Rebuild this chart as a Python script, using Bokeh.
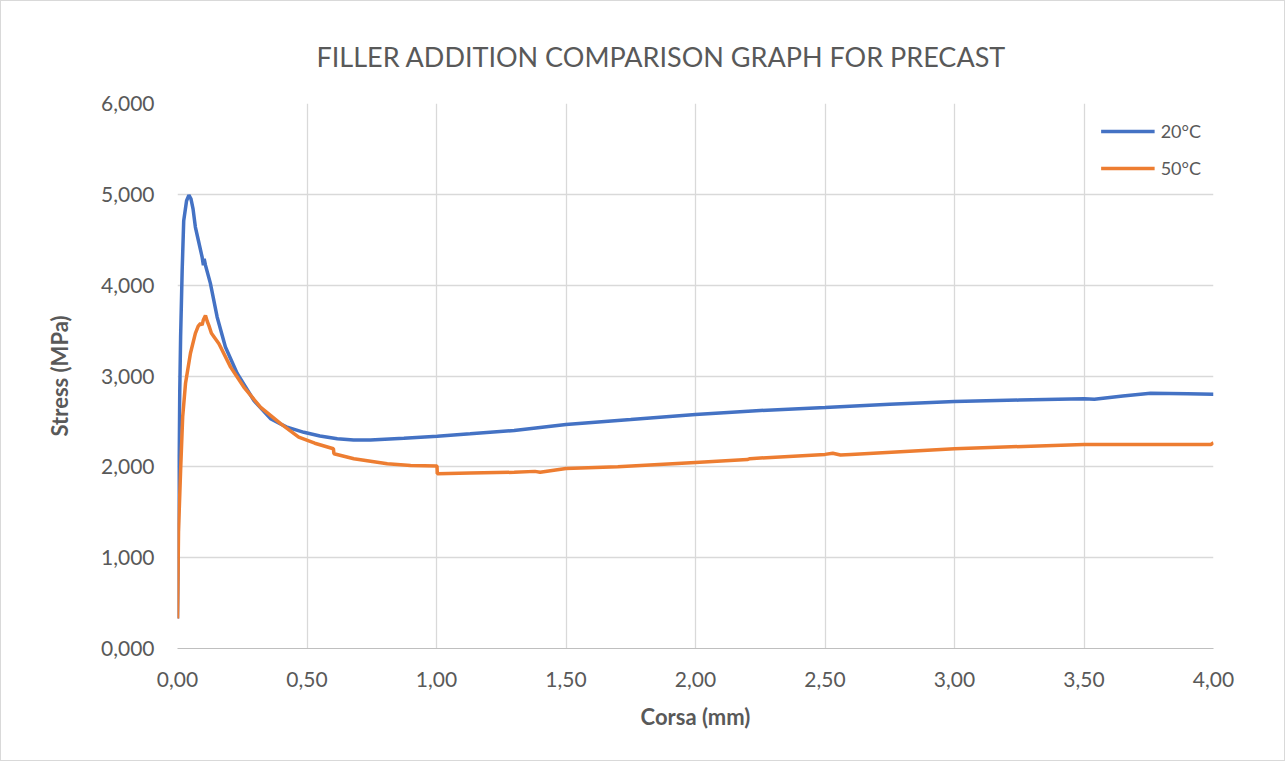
from bokeh.plotting import figure
from bokeh.models import Range1d, FixedTicker, Legend, Title
from bokeh.embed import file_html
from bokeh.resources import INLINE

# ---- data (Corsa in mm, Stress in MPa) ----
x_20 = [0.000, 0.003, 0.004, 0.012, 0.018, 0.024, 0.035, 0.044, 0.052, 0.060, 0.069, 0.080,
        0.095, 0.100, 0.103, 0.108, 0.127, 0.153, 0.185, 0.230, 0.295, 0.359, 0.420, 0.488,
        0.550, 0.617, 0.680, 0.745, 0.874, 1.003, 1.130, 1.300, 1.500, 1.750, 2.000, 2.250,
        2.500, 2.750, 3.000, 3.250, 3.500, 3.540, 3.650, 3.757, 3.900, 4.000]
y_20 = [0.33, 1.23, 1.96, 3.43, 4.16, 4.71, 4.93, 4.99, 4.95, 4.84, 4.64, 4.50,
        4.31, 4.22, 4.29, 4.22, 4.02, 3.65, 3.32, 3.03, 2.73, 2.53, 2.44, 2.38,
        2.34, 2.31, 2.295, 2.295, 2.315, 2.338, 2.364, 2.40, 2.467, 2.52, 2.577, 2.62,
        2.654, 2.69, 2.718, 2.735, 2.75, 2.745, 2.78, 2.81, 2.805, 2.80]

x_50 = [0.000, 0.004, 0.012, 0.020, 0.031, 0.050, 0.069, 0.080, 0.089, 0.095, 0.100, 0.108,
        0.115, 0.121, 0.131, 0.160, 0.205, 0.256, 0.320, 0.398, 0.468, 0.530, 0.602, 0.604,
        0.681, 0.810, 0.900, 1.002, 1.003, 1.131, 1.300, 1.380, 1.400, 1.500, 1.700, 2.000,
        2.200, 2.210, 2.500, 2.530, 2.560, 2.600, 3.000, 3.500, 3.990, 4.000]
y_50 = [0.33, 1.30, 1.96, 2.55, 2.92, 3.25, 3.47, 3.55, 3.58, 3.56, 3.62, 3.667,
        3.60, 3.557, 3.47, 3.355, 3.098, 2.878, 2.658, 2.475, 2.327, 2.26, 2.199, 2.144,
        2.089, 2.034, 2.015, 2.008, 1.924, 1.931, 1.94, 1.95, 1.94, 1.982, 2.00, 2.048,
        2.08, 2.09, 2.137, 2.15, 2.13, 2.137, 2.199, 2.247, 2.247, 2.265]

series_names = ["20°C", "50°C"]
series_colors = ["#4472C4", "#ED7D31"]

x_ticks = [0.0, 0.5, 1.0, 1.5, 2.0, 2.5, 3.0, 3.5, 4.0]
x_tick_labels = ["0,00", "0,50", "1,00", "1,50", "2,00", "2,50", "3,00", "3,50", "4,00"]
y_ticks = [0, 1, 2, 3, 4, 5, 6]
y_tick_labels = ["0,000", "1,000", "2,000", "3,000", "4,000", "5,000", "6,000"]

title_text = "FILLER ADDITION COMPARISON GRAPH FOR PRECAST"
x_label = "Corsa (mm)"
y_label = "Stress (MPa)"

FONT = "Lato"
TXT = "#595959"

p = figure(width=1285, height=761, output_backend="svg", toolbar_location=None,
           x_range=Range1d(0, 4), y_range=Range1d(0, 6),
           min_border_left=176, min_border_right=73, min_border_top=102, min_border_bottom=114)
p.outline_line_color = None
p.background_fill_color = "white"
p.border_fill_color = "white"
p.styles = {"border": "1px solid #D9D9D9"}

t = Title(text=title_text, text_font=FONT, text_font_size="27px", text_font_style="normal",
          text_color=TXT, align="left", offset=139)
try:
    t.standoff = 62
except Exception:
    pass
p.add_layout(t, "above")

for ax, ticks, labels in ((p.xaxis[0], x_ticks, x_tick_labels), (p.yaxis[0], y_ticks, y_tick_labels)):
    ax.ticker = FixedTicker(ticks=ticks)
    ax.major_label_overrides = {tk: lb for tk, lb in zip(ticks, labels)}
    ax.major_tick_line_color = None
    ax.minor_tick_line_color = None
    ax.major_label_text_font = FONT
    ax.major_label_text_font_size = "21px"
    ax.major_label_text_color = TXT
    ax.axis_label_text_font = FONT
    ax.axis_label_text_font_size = "22px"
    ax.axis_label_text_font_style = "bold"
    ax.axis_label_text_color = TXT

p.xaxis.axis_label = x_label
p.yaxis.axis_label = y_label
p.xaxis.axis_line_color = "#BFBFBF"
p.yaxis.axis_line_color = None
p.xaxis.major_label_standoff = 17
p.yaxis.major_label_standoff = 17
p.xaxis.axis_label_standoff = 13
p.yaxis.axis_label_standoff = 25

p.xgrid.ticker = FixedTicker(ticks=x_ticks)
p.ygrid.ticker = FixedTicker(ticks=y_ticks)
p.grid.grid_line_color = "#D9D9D9"
p.grid.grid_line_width = 1.3

r20 = p.line(x_20, y_20, line_color=series_colors[0], line_width=3.5)
r50 = p.line(x_50, y_50, line_color=series_colors[1], line_width=3.5)

legend = Legend(items=[(series_names[0], [r20]), (series_names[1], [r50])],
                location="top_right", border_line_color=None, background_fill_alpha=0,
                label_text_font=FONT, label_text_font_size="18px", label_text_color=TXT,
                glyph_width=54, glyph_height=32, label_height=32, spacing=5,
                label_standoff=6, padding=0, margin=12)
p.add_layout(legend)

open("out.html", "w").write(file_html(p, INLINE))
